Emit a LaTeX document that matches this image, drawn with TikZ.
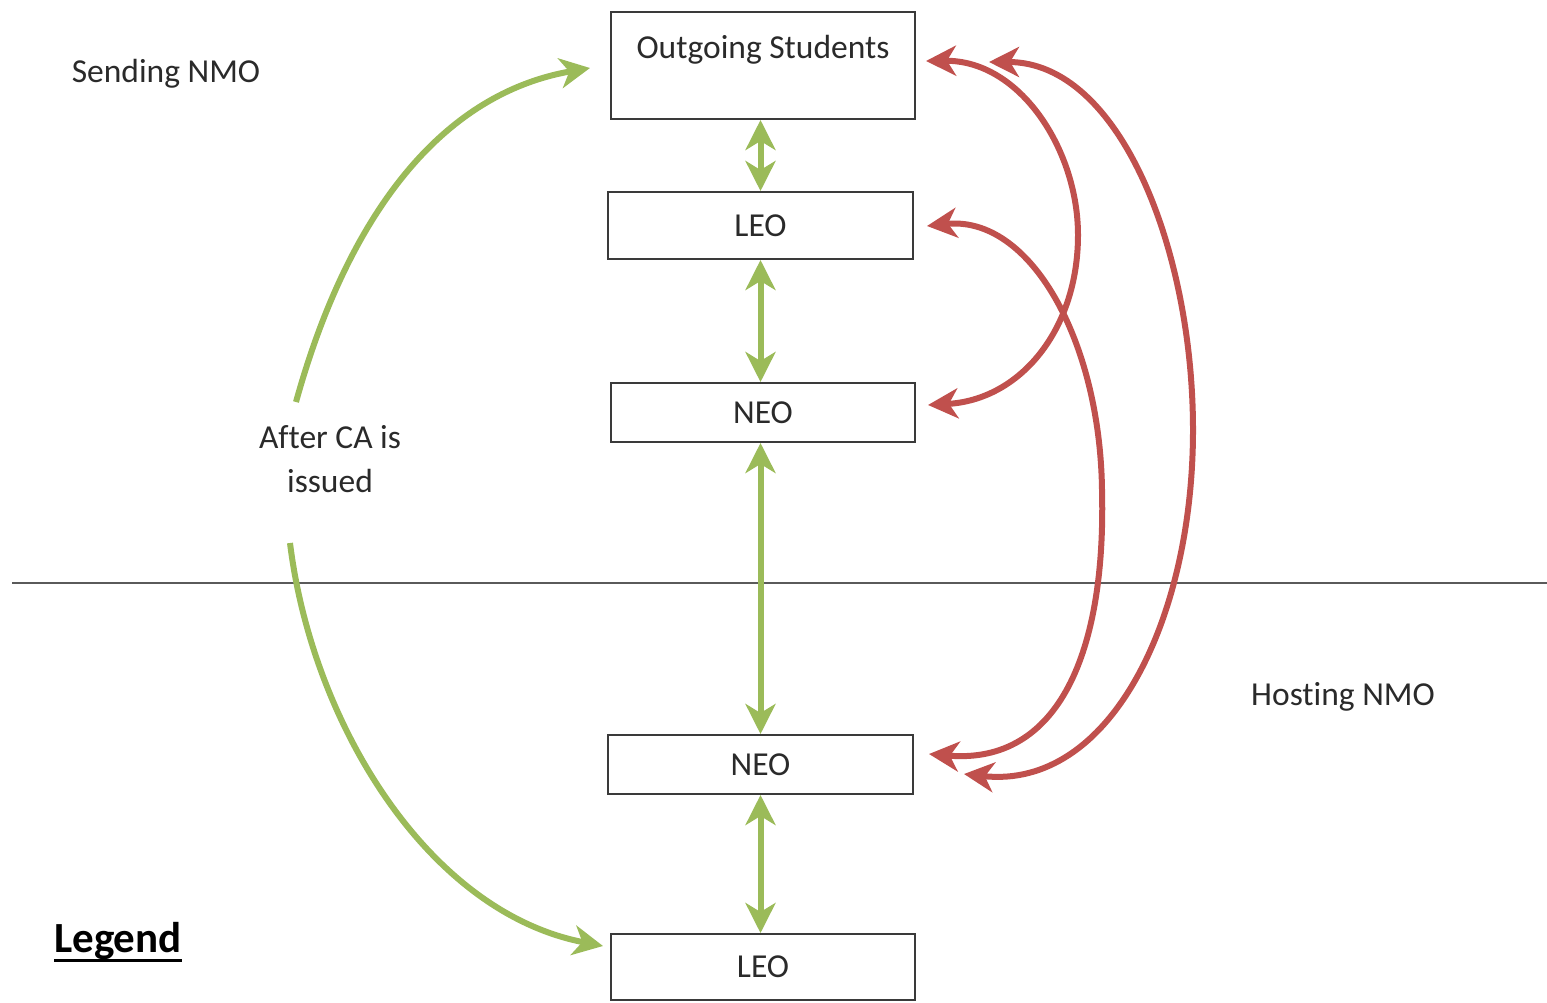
\documentclass[tikz,border=0pt]{standalone}
\usepackage{fontspec}
\setmainfont{Carlito}[Ligatures={NoCommon}]
\usetikzlibrary{arrows.meta,calc}
\definecolor{ogreen}{HTML}{9BBB59}
\definecolor{ored}{HTML}{C0504D}
\definecolor{boxline}{HTML}{3A3A3A}
\definecolor{txt}{HTML}{2A2A2A}
\definecolor{sep}{HTML}{5A5A5A}
\begin{document}
\begin{tikzpicture}[x=1pt,y=-1pt,
  box/.style={draw=boxline, line width=2pt, fill=white, minimum width=304pt,
    inner sep=0pt, text=txt, font=\fontsize{33.5}{40}\selectfont},
  lbl/.style={text=txt, font=\fontsize{33.5}{44}\selectfont, align=center, inner sep=0pt},
  gboth/.style={draw=ogreen, line width=6pt, {Stealth[length=30pt,width=30pt,inset=9pt]}-{Stealth[length=30pt,width=30pt,inset=9pt]}},
  gone/.style={draw=ogreen, line width=6pt, -{Stealth[length=30pt,width=30pt,inset=9pt]}},
  rboth/.style={draw=ored, line width=6pt, {Stealth[length=30pt,width=30pt,inset=9pt]}-{Stealth[length=30pt,width=30pt,inset=9pt]}},
]
\useasboundingbox (0,0) rectangle (1547,1003);

% separator line
\coordinate (hl) at (12,583);
\coordinate (hr) at (1547,583);
\draw[sep, line width=2.5pt] (hl) -- (hr);

% boxes
\node[box, minimum height=107pt, text height=24pt, text depth=37pt] (out) at (763,65.5) {Outgoing Students};
\node[box, minimum width=305pt, minimum height=67pt] (leo1) at (760.5,225.5) {LEO};
\node[box, minimum height=59pt] (neo1) at (763,412.5) {NEO};
\node[box, minimum width=305pt, minimum height=59pt] (neo2) at (760.5,764.5) {NEO};
\node[box, minimum height=66pt] (leo2) at (763,967) {LEO};

% labels
\node[lbl, anchor=base] (send) at (166,83) {Sending NMO};
\node[lbl, anchor=base] (host) at (1343,705) {Hosting NMO};
\node[lbl, anchor=base] (after) at (330,492) {After CA is\\issued};
\node[inner sep=0pt, anchor=base, font=\bfseries\fontsize{43}{50}\selectfont, text=black] (legend) at (118,952) {Legend};
\draw[black, line width=3pt] ([yshift=-8pt]legend.base west) -- ([yshift=-8pt]legend.base east);

% green vertical connectors
\draw[gboth] (leo1.north |- out.south) -- (leo1.north);
\draw[gboth] (leo1.south) -- (leo1.south |- neo1.north);
\draw[gboth] (neo2.north |- neo1.south) -- (neo2.north);
\draw[gboth] (neo2.south) -- (neo2.south |- leo2.north);

% green curved arrows (After CA is issued)
\coordinate (gs) at (296,402);
\coordinate (ge) at (290,543);
\draw[gone] (gs) .. controls (345,225) and (435,95) .. ($(out.west)+(-20,2.5)$);
\draw[gone] (ge) .. controls (312,722) and (427,912) .. ($(leo2.west)+(-7,-21)$);

% red curved double arrows
\draw[rboth] ($(out.east)+(10,-4.5)$) .. controls (1020,60) and (1078,150) .. (1078,235)
  .. controls (1078,330) and (1020,400) .. ($(neo1.east)+(12,-7.5)$);
\draw[rboth] ($(leo1.east)+(13,0.5)$) .. controls (1030,215) and (1100,340) .. (1102,490)
  .. controls (1106,650) and (1060,765) .. ($(neo2.east)+(15,-10.5)$);
\draw[rboth] ($(out.east)+(73,-3.5)$) .. controls (1120,62) and (1193,250) .. (1193,430)
  .. controls (1193,620) and (1110,790) .. ($(neo2.east)+(50,9.5)$);
\end{tikzpicture}
\end{document}
